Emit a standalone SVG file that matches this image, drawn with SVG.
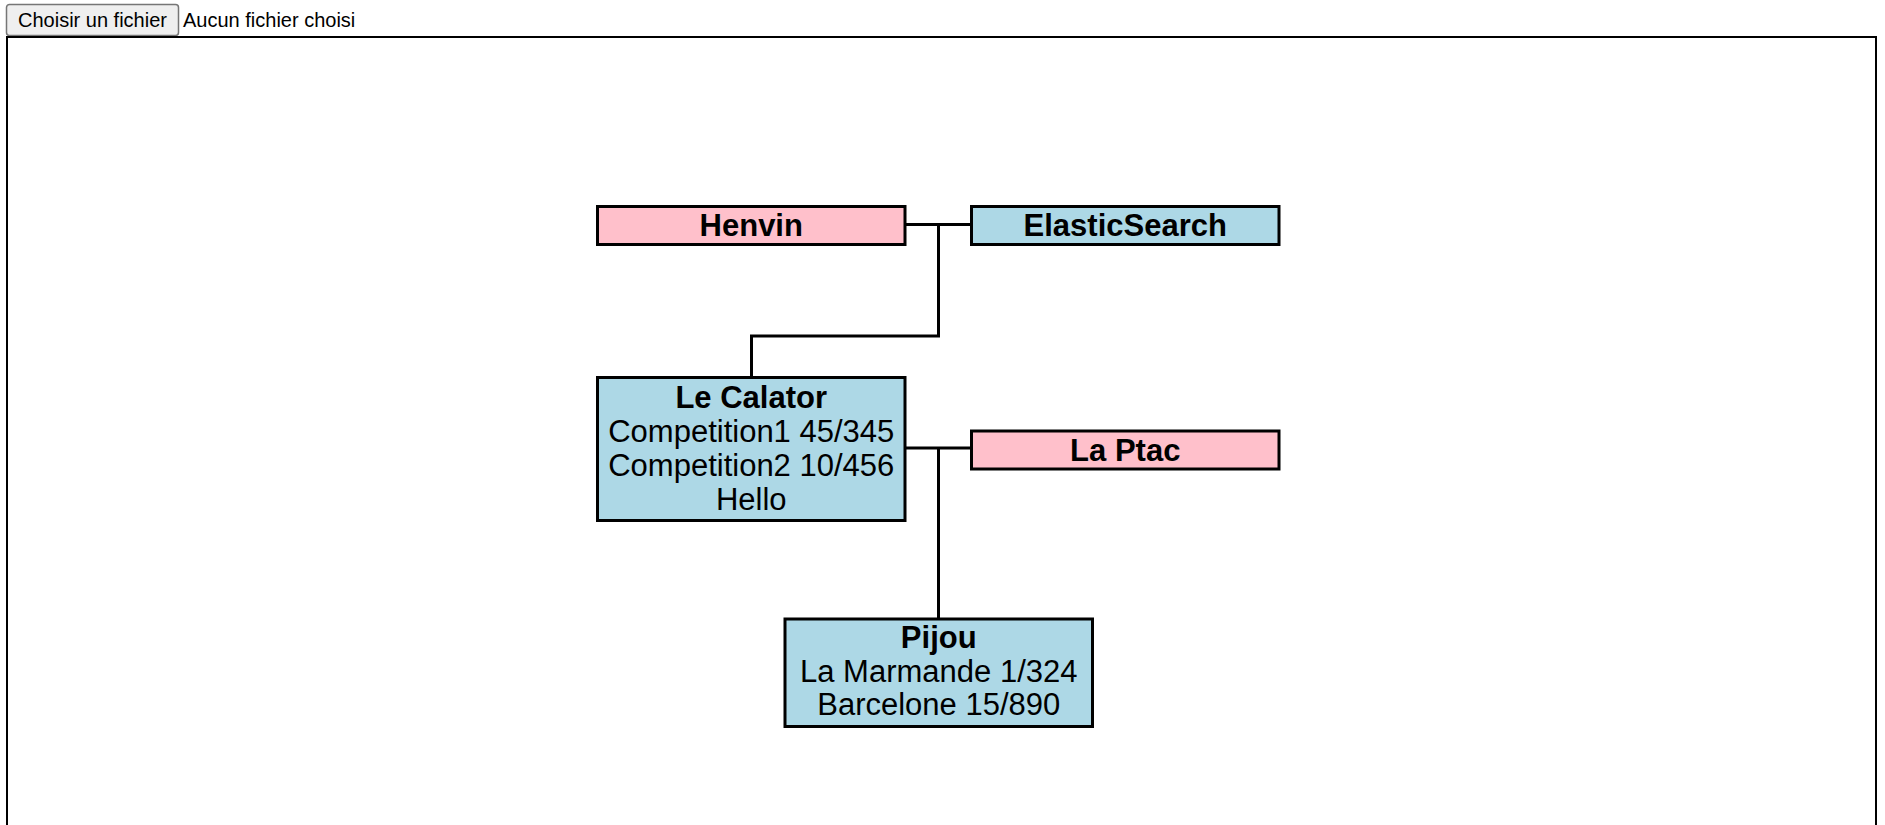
<svg xmlns="http://www.w3.org/2000/svg" width="1885" height="825" viewBox="0 0 1885 825">
<style>
text { font-family: "Liberation Sans", Arial, sans-serif; fill: #000; }
.ui { font-size: 20px; }
.node rect { stroke: #000; stroke-width: 3; }
.pink { fill: #ffc0cb; }
.blue { fill: #add8e6; }
.t { font-size: 31px; text-anchor: middle; }
.b { font-weight: bold; }
#connectors path { fill: none; stroke: #000; stroke-width: 3; }
</style>
<rect width="1885" height="825" fill="#fff"/>
<g id="file-input">
  <rect x="6.5" y="4.5" width="172" height="31" rx="3" fill="#efefef" stroke="#767676" stroke-width="1.5"/>
  <text class="ui" x="18" y="27">Choisir un fichier</text>
  <text class="ui" x="183" y="27">Aucun fichier choisi</text>
</g>
<rect id="canvas" x="7" y="37" width="1869" height="900" fill="none" stroke="#000" stroke-width="2"/>
<g id="connectors">
  <path d="M905 224.5 H971.5 M938.5 224.5 V336 H751.5 V377.5"/>
  <path d="M905 448 H971.5 M938.5 448 V619"/>
</g>
<g id="henvin" class="node">
  <rect class="pink" x="597.5" y="206.5" width="307.5" height="38"/>
  <text class="t b" x="751.25" y="236">Henvin</text>
</g>
<g id="elasticsearch" class="node">
  <rect class="blue" x="971.5" y="206.5" width="307.5" height="38"/>
  <text class="t b" x="1125.25" y="236">ElasticSearch</text>
</g>
<g id="le-calator" class="node">
  <rect class="blue" x="597.5" y="377.5" width="307.5" height="143"/>
  <text class="t b" x="751.25" y="407.5">Le Calator</text>
  <text class="t" x="751.25" y="441.5">Competition1 45/345</text>
  <text class="t" x="751.25" y="475.5">Competition2 10/456</text>
  <text class="t" x="751.25" y="509.5">Hello</text>
</g>
<g id="la-ptac" class="node">
  <rect class="pink" x="971.5" y="431" width="307.5" height="38"/>
  <text class="t b" x="1125.25" y="460.5">La Ptac</text>
</g>
<g id="pijou" class="node">
  <rect class="blue" x="785" y="619" width="307.5" height="107.5"/>
  <text class="t b" x="938.75" y="648">Pijou</text>
  <text class="t" x="938.75" y="681.5">La Marmande 1/324</text>
  <text class="t" x="938.75" y="715">Barcelone 15/890</text>
</g>
</svg>
